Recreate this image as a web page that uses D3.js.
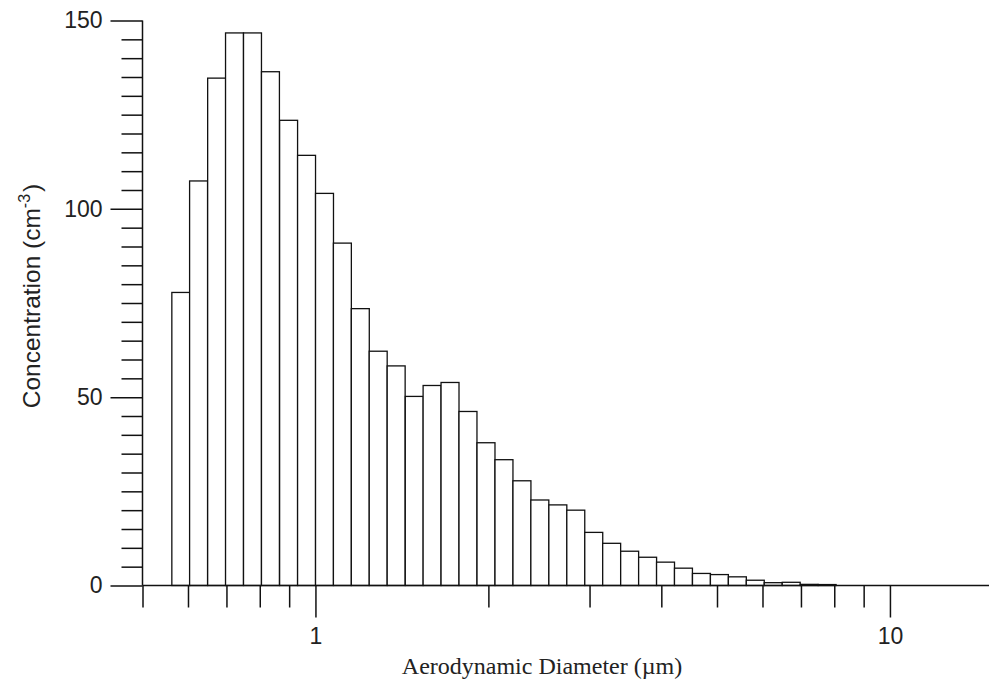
<!DOCTYPE html>
<html>
<head>
<meta charset="utf-8">
<script src="https://cdn.jsdelivr.net/npm/d3@7"></script>
<style>
  html, body { margin: 0; padding: 0; background: #fff; }
  svg { display: block; }
</style>
</head>
<body>
<svg id="chart" width="989" height="680"></svg>
<script>
// APS channel midpoints (aerodynamic diameter, µm), 32 channels per decade
const diameters = [0.583, 0.626, 0.673, 0.723, 0.777, 0.835, 0.898, 0.965, 1.037, 1.114,
  1.197, 1.286, 1.382, 1.486, 1.596, 1.715, 1.843, 1.981, 2.129, 2.288,
  2.458, 2.642, 2.839, 3.051, 3.278, 3.523, 3.786, 4.068, 4.371, 4.698,
  5.048, 5.425, 5.829, 6.264, 6.732, 7.234, 7.774];

// Number concentration per channel (cm^-3)
const concentrations = [77.8, 107.4, 134.7, 146.7, 146.7, 136.4, 123.5, 114.2, 104.1, 90.9,
  73.5, 62.2, 58.3, 50.2, 53.1, 53.9, 46.2, 37.9, 33.4, 27.8,
  22.7, 21.4, 20.0, 14.1, 11.2, 9.1, 7.5, 6.2, 4.6, 3.2,
  2.9, 2.3, 1.4, 0.75, 0.85, 0.3, 0.25];

const channelsPerDecade = 32;

const xMajorTicks = [1, 10];
const xMinorTicks = [0.5, 0.6, 0.7, 0.8, 0.9, 2, 3, 4, 5, 6, 7, 8, 9];
const yMajorTicks = [0, 50, 100, 150];
const yMinorTicks = d3.range(0, 151, 5).filter(v => v % 50 !== 0);

const svg = d3.select("#chart");

const x0 = 142.5, decadePx = 574.5;
const x = d3.scaleLog()
  .domain([0.5, 15])
  .range([x0, x0 + Math.log10(30) * decadePx]);

const y = d3.scaleLinear()
  .domain([0, 150])
  .range([585.5, 20.5]);

const half = Math.pow(10, 1 / (2 * channelsPerDecade));
const bins = diameters.map((d, i) => ({ lo: d / half, hi: d * half, v: concentrations[i] }));

// Histogram bars
svg.append("g")
  .selectAll("rect")
  .data(bins)
  .join("rect")
  .attr("x", d => x(d.lo))
  .attr("width", d => x(d.hi) - x(d.lo))
  .attr("y", d => y(d.v))
  .attr("height", d => y(0) - y(d.v))
  .attr("fill", "#fff")
  .attr("stroke", "#111")
  .attr("stroke-width", 1.3);

const tickFont = "'Liberation Sans', Arial, sans-serif";

// X axis: minor ticks then labelled major ticks
const gxMinor = svg.append("g")
  .attr("transform", `translate(0,${y(0)})`)
  .call(d3.axisBottom(x).tickValues(xMinorTicks).tickSize(22).tickFormat(""));
gxMinor.select(".domain").remove();

const gx = svg.append("g")
  .attr("transform", `translate(0,${y(0)})`)
  .call(d3.axisBottom(x).tickValues(xMajorTicks).tickSize(32).tickPadding(10.5)
    .tickFormat(d3.format("d")));
gx.select(".domain").attr("d", `M${x0},0H989`);

// Y axis: minor ticks then labelled major ticks
const gyMinor = svg.append("g")
  .attr("transform", `translate(${x0},0)`)
  .call(d3.axisLeft(y).tickValues(yMinorTicks).tickSize(21).tickFormat(""));
gyMinor.select(".domain").remove();

const gy = svg.append("g")
  .attr("transform", `translate(${x0},0)`)
  .call(d3.axisLeft(y).tickValues(yMajorTicks).tickSize(32).tickPadding(8)
    .tickFormat(d3.format("d")));
gy.select(".domain").attr("d", `M0,${y(150)}V${y(0)}`);

svg.selectAll(".tick line, .domain")
  .attr("stroke", "#111")
  .attr("stroke-width", 1.5);
svg.selectAll(".tick text")
  .attr("font-family", tickFont)
  .attr("font-size", 23)
  .attr("fill", "#222");

// Axis titles
svg.append("text")
  .attr("x", 542)
  .attr("y", 674)
  .attr("text-anchor", "middle")
  .attr("font-family", "'Liberation Serif', 'Times New Roman', serif")
  .attr("font-size", 24)
  .attr("fill", "#222")
  .text("Aerodynamic Diameter (\u00b5m)");

const yTitle = svg.append("text")
  .attr("transform", "translate(40,296) rotate(-90)")
  .attr("text-anchor", "middle")
  .attr("font-family", tickFont)
  .attr("font-size", 24.5)
  .attr("fill", "#222");
yTitle.append("tspan").text("Concentration (cm");
yTitle.append("tspan").attr("font-size", 16).attr("dy", -10).text("-3");
yTitle.append("tspan").attr("dy", 10).attr("dx", 2).text(")");
</script>
</body>
</html>
